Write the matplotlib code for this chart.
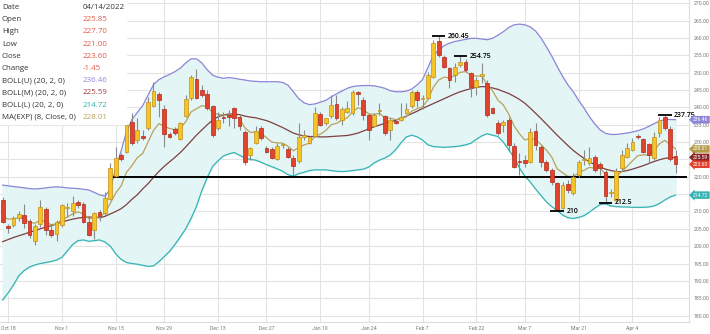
import matplotlib
matplotlib.use("Agg")
import matplotlib.pyplot as plt
import matplotlib.transforms as mtransforms
import pandas as pd
from matplotlib.patches import Rectangle
from pandas.tseries.offsets import CustomBusinessDay

# daily OHLC, 2021-10-15 .. 2022-04-14 (NYSE sessions)
market_holidays = ["2021-11-25", "2021-12-24", "2022-01-17", "2022-02-21"]

opens = [
    213.3, 205.8, 206.1, 208.0, 209.0, 207.4, 201.6, 206.3, 210.6, 204.7,
    203.5, 206.0, 211.0, 210.0, 212.8, 212.3, 207.1, 204.8, 209.8, 209.5,
    213.6, 220.3, 226.3, 227.2, 235.9, 230.6, 231.8, 234.0, 240.4, 244.0,
    239.4, 232.3, 233.7, 230.8, 237.5, 242.6, 248.1, 245.0, 243.9, 240.4,
    234.0, 237.2, 237.8, 239.7, 237.1, 233.0, 226.3, 229.6, 234.0, 228.2,
    227.9, 225.0, 229.1, 227.9, 225.5, 224.6, 231.6, 229.8, 231.8, 238.1,
    235.4, 237.4, 241.1, 236.4, 238.8, 238.3, 244.5, 242.0, 237.8, 234.7,
    238.9, 237.4, 233.5, 236.0, 236.5, 238.3, 240.3, 244.5, 242.3, 242.6,
    248.7, 259.0, 254.6, 251.3, 249.3, 252.2, 253.2, 249.8, 246.0, 249.0,
    247.0, 239.7, 235.4, 234.9, 236.4, 228.9, 224.6, 224.9, 224.4, 233.3,
    228.7, 224.4, 222.0, 218.1, 210.9, 217.9, 215.2, 220.5, 224.8, 224.1,
    225.8, 223.7, 221.5, 215.2, 213.3, 222.4, 225.8, 227.7, 231.8, 230.8,
    229.4, 225.3, 232.6, 237.3, 233.7, 225.85,
]
highs = [
    214.3, 206.3, 208.6, 210.0, 212.2, 207.8, 206.4, 213.3, 211.3, 206.3,
    207.5, 212.3, 212.4, 214.6, 213.4, 212.8, 208.5, 209.8, 210.3, 215.7,
    223.9, 228.7, 226.8, 236.4, 238.3, 236.8, 233.5, 243.1, 247.4, 244.3,
    240.7, 233.0, 234.3, 235.9, 243.6, 249.3, 251.0, 246.4, 245.0, 240.7,
    238.8, 238.8, 239.2, 240.2, 237.8, 233.5, 228.7, 234.5, 234.5, 228.9,
    228.5, 229.6, 229.6, 228.5, 226.3, 235.6, 233.5, 231.8, 240.2, 238.8,
    237.0, 243.5, 243.6, 240.0, 241.7, 245.0, 244.8, 243.1, 238.3, 238.3,
    241.2, 237.8, 236.9, 236.4, 241.2, 241.2, 245.0, 245.0, 243.5, 250.3,
    259.5, 260.45, 255.1, 251.7, 252.7, 254.75, 254.0, 250.3, 248.9, 252.7,
    247.9, 240.0, 236.4, 236.4, 237.3, 229.6, 226.8, 226.3, 234.0, 235.4,
    229.2, 224.9, 222.4, 218.6, 218.6, 219.1, 221.0, 224.9, 227.7, 228.7,
    226.3, 224.4, 222.0, 216.5, 222.4, 227.7, 229.6, 231.1, 232.3, 231.3,
    229.8, 233.0, 237.3, 237.75, 234.5, 227.70,
]
lows = [
    206.6, 203.7, 205.5, 207.4, 205.3, 202.3, 200.3, 205.6, 203.3, 202.7,
    201.5, 205.6, 208.5, 208.6, 210.9, 206.6, 202.8, 202.2, 207.2, 209.0,
    213.3, 220.0, 224.6, 226.8, 229.2, 229.6, 230.6, 233.5, 240.2, 237.3,
    228.7, 231.1, 232.0, 230.6, 237.1, 242.1, 242.3, 243.1, 239.2, 231.6,
    233.5, 235.5, 234.5, 234.0, 233.5, 223.4, 224.8, 229.4, 230.6, 226.8,
    225.2, 224.8, 228.2, 225.3, 220.5, 224.1, 230.6, 229.4, 231.6, 234.6,
    235.0, 236.8, 236.4, 234.9, 238.3, 237.8, 240.7, 236.4, 230.6, 234.5,
    237.8, 232.0, 230.6, 235.2, 236.2, 238.0, 239.7, 240.0, 239.5, 242.3,
    248.4, 254.5, 251.3, 245.5, 247.4, 251.7, 250.3, 243.1, 243.6, 247.0,
    237.3, 238.2, 232.0, 233.0, 227.3, 222.4, 220.5, 222.9, 223.9, 227.7,
    222.9, 221.5, 217.6, 210.0, 210.6, 215.2, 214.8, 220.0, 223.4, 223.4,
    221.5, 220.5, 212.5, 214.2, 212.8, 222.0, 225.3, 227.3, 231.0, 226.8,
    223.9, 224.9, 231.5, 233.5, 224.5, 221.00,
]
closes = [
    207.1, 205.1, 208.0, 209.3, 206.8, 203.2, 205.8, 211.2, 204.7, 203.2,
    207.1, 211.9, 211.2, 212.5, 211.9, 207.1, 203.2, 209.5, 208.7, 213.8,
    222.4, 225.3, 225.0, 234.9, 229.6, 233.5, 231.2, 241.6, 244.8, 242.1,
    232.2, 231.6, 232.5, 235.6, 242.3, 248.7, 242.6, 243.6, 239.7, 232.0,
    236.4, 237.0, 237.2, 236.8, 234.6, 224.4, 228.2, 233.3, 231.1, 227.0,
    225.5, 228.9, 229.3, 225.8, 223.1, 231.6, 231.8, 231.6, 238.3, 234.9,
    236.8, 240.7, 236.9, 239.4, 239.7, 244.5, 243.9, 237.8, 233.4, 237.9,
    239.3, 232.5, 236.4, 235.4, 237.1, 239.4, 244.4, 242.1, 242.5, 249.3,
    258.5, 255.1, 251.7, 247.9, 251.7, 253.2, 250.8, 246.0, 247.9, 249.5,
    237.8, 238.5, 232.5, 235.9, 229.2, 222.9, 224.2, 224.1, 233.0, 229.2,
    224.4, 222.0, 218.6, 210.4, 217.6, 216.2, 220.0, 224.4, 225.0, 225.3,
    222.0, 222.4, 214.5, 215.6, 221.8, 226.3, 228.2, 230.1, 231.4, 227.2,
    226.3, 231.6, 236.5, 234.0, 225.05, 223.60,
]

# BOLL(20, 2, 0) upper / middle / lower and MA(EXP) (8, Close, 0)
boll_upper = [
    217.6, 217.4, 217.2, 217.0, 216.8, 216.6, 216.5, 216.6, 216.8, 217.0,
    217.1, 217.0, 216.8, 216.7, 216.6, 216.4, 216.2, 215.5, 214.8, 214.4,
    216.5, 222.5, 227.5, 233.0, 236.5, 238.5, 240.5, 243.5, 246.5, 248.0,
    248.8, 249.5, 250.3, 251.3, 252.8, 254.0, 254.0, 252.8, 250.8, 249.3,
    248.7, 248.4, 248.6, 248.4, 248.1, 247.9, 247.6, 247.5, 247.4, 247.4,
    247.4, 247.4, 247.2, 246.4, 244.5, 242.5, 241.3, 240.8, 241.0, 241.5,
    242.0, 243.0, 243.9, 244.7, 245.5, 246.0, 246.2, 246.3, 246.3, 246.2,
    245.9, 245.5, 244.8, 244.5, 244.5, 244.7, 245.3, 246.5, 248.0, 251.5,
    255.0, 256.5, 257.8, 258.5, 259.0, 259.3, 259.6, 259.9, 259.9, 259.7,
    259.5, 259.9, 260.8, 261.8, 263.0, 263.8, 264.0, 263.8, 263.2, 262.0,
    260.0, 257.5, 254.8, 251.8, 249.0, 246.5, 244.5, 242.0, 239.8, 237.3,
    235.2, 233.5, 232.5, 232.2, 232.2, 232.4, 232.6, 232.9, 233.3, 233.8,
    234.5, 235.3, 236.0, 236.5, 236.5, 236.46,
]
boll_mid = [
    201.3, 201.9, 202.5, 203.0, 203.5, 204.0, 204.5, 205.0, 205.5, 205.9,
    206.4, 207.0, 207.4, 207.8, 208.1, 208.3, 208.4, 208.3, 208.2, 208.6,
    209.3, 210.0, 210.8, 212.0, 213.5, 214.8, 216.5, 218.0, 219.8, 221.5,
    223.0, 224.3, 225.6, 227.0, 228.6, 230.3, 232.0, 233.5, 235.0, 236.3,
    237.3, 237.8, 238.1, 238.1, 237.9, 237.5, 237.2, 237.0, 236.6, 236.2,
    235.6, 234.9, 234.2, 233.4, 232.6, 232.1, 231.8, 231.6, 231.6, 231.5,
    231.5, 231.6, 231.7, 231.8, 231.9, 232.2, 232.6, 233.2, 233.8, 234.4,
    234.9, 235.4, 235.8, 236.3, 236.8, 237.5, 238.2, 238.9, 239.7, 240.4,
    241.1, 241.8, 242.5, 243.2, 243.9, 244.5, 245.0, 245.4, 245.8, 246.0,
    245.9, 245.6, 245.2, 244.6, 244.0, 243.2, 242.3, 241.2, 239.8, 238.3,
    236.8, 235.2, 233.6, 232.0, 230.5, 229.0, 227.6, 226.4, 225.3, 224.3,
    223.5, 222.8, 222.2, 221.8, 221.5, 221.5, 221.8, 222.2, 222.7, 223.2,
    223.8, 224.4, 224.9, 225.3, 225.5, 225.59,
]
boll_lower = [
    184.5, 186.5, 188.8, 191.5, 193.0, 194.0, 194.6, 195.0, 195.3, 195.6,
    196.0, 196.8, 198.6, 200.5, 201.6, 201.8, 201.4, 201.6, 201.8, 201.2,
    200.0, 197.8, 196.2, 195.3, 195.0, 194.8, 194.5, 194.2, 194.3, 195.5,
    197.0, 198.5, 200.5, 202.7, 205.0, 208.0, 211.5, 216.0, 219.8, 223.0,
    224.6, 226.0, 226.6, 227.0, 226.2, 225.4, 225.0, 224.8, 224.2, 223.5,
    222.9, 222.3, 221.6, 220.6, 220.2, 220.9, 221.3, 221.8, 222.0, 222.0,
    222.0, 221.8, 221.6, 221.5, 221.6, 221.8, 222.0, 222.2, 222.8, 224.0,
    224.8, 225.4, 226.3, 227.8, 229.8, 231.5, 232.0, 231.5, 230.6, 229.2,
    228.7, 228.6, 228.5, 228.6, 228.7, 228.9, 229.2, 229.7, 230.8, 231.8,
    232.4, 232.0, 231.6, 230.0, 227.8, 225.6, 222.5, 220.2, 218.5, 216.5,
    214.6, 212.8, 211.4, 210.3, 209.0, 208.2, 208.0, 208.3, 208.8, 209.8,
    211.0, 212.0, 212.2, 211.6, 211.4, 211.3, 211.3, 211.2, 211.2, 211.2,
    211.3, 211.6, 212.3, 213.3, 214.2, 214.72,
]
ema8 = [
    208.6, 207.8, 207.9, 208.2, 207.9, 206.9, 206.6, 207.6, 207.0, 206.2,
    206.4, 207.6, 208.4, 209.3, 209.9, 209.3, 207.9, 208.3, 208.4, 209.6,
    212.4, 215.3, 217.4, 221.3, 223.2, 225.5, 226.7, 230.0, 233.3, 235.3,
    234.6, 233.9, 233.6, 234.0, 235.9, 238.7, 239.6, 240.5, 240.3, 238.5,
    238.0, 237.8, 237.7, 237.5, 236.8, 234.1, 232.8, 232.9, 232.5, 231.3,
    230.0, 229.8, 229.7, 228.8, 227.5, 228.4, 229.2, 229.7, 231.6, 232.3,
    233.3, 235.0, 235.4, 236.3, 237.0, 238.7, 239.9, 239.4, 238.1, 238.0,
    238.3, 237.0, 236.9, 236.5, 236.7, 237.3, 238.9, 239.6, 240.2, 242.2,
    245.8, 247.9, 248.7, 248.5, 249.2, 250.1, 250.3, 249.3, 249.0, 249.1,
    246.6, 244.8, 242.1, 240.7, 238.1, 234.7, 232.4, 230.6, 231.1, 230.7,
    229.3, 227.7, 225.7, 222.3, 221.2, 220.1, 220.1, 221.1, 221.9, 222.7,
    222.5, 222.5, 220.7, 219.6, 220.1, 221.5, 223.0, 224.6, 226.1, 226.3,
    226.3, 227.5, 229.5, 230.5, 229.3, 228.01,
]

# marked highs / lows: (session, price, label)
marked_highs = [(81, 260.45, "260.45"), (85, 254.75, "254.75"), (123, 237.75, "237.75")]
marked_lows = [(103, 210.0, "210"), (112, 212.5, "212.5")]
support_level = 220.0
support_from = "2021-11-12"

tick_dates = ["2021-10-18", "2021-11-01", "2021-11-15", "2021-11-29", "2021-12-13",
              "2021-12-27", "2022-01-10", "2022-01-24", "2022-02-07", "2022-02-22",
              "2022-03-07", "2022-03-21", "2022-04-04"]
price_ticks = list(range(180, 271, 5))
covered_ticks = [215, 225]  # hidden behind the value tags

dates = pd.date_range("2021-10-15", "2022-04-14",
                      freq=CustomBusinessDay(holidays=market_holidays))
assert len(dates) == len(closes)
x = list(range(len(dates)))
last = len(dates) - 1

UP_FILL, UP_EDGE = "#f6c525", "#c2901a"
DN_FILL, DN_EDGE = "#e4432b", "#b02a1a"
C_UPPER, C_MID, C_LOWER, C_EMA = "#8d86d8", "#7d3f3f", "#35b3b3", "#b8a25c"

fig = plt.figure(figsize=(7.1, 3.34), dpi=100)
ax = fig.add_axes([0.0, 12 / 334, 689 / 710, 322 / 334])
ax.set_xlim(-0.5, 127.5)
ax.set_ylim(178.15, 270.95)

# grid
ax.set_yticks(price_ticks)
ax.set_yticklabels(["" if v in covered_ticks else f"{v:.2f}" for v in price_ticks],
                   family="Roboto")
tick_pos = dates.get_indexer(pd.to_datetime(tick_dates))
ax.set_xticks(tick_pos)
ax.set_xticklabels([f"{d:%b} {d.day}" for d in pd.to_datetime(tick_dates)],
                   family="Roboto")
ax.grid(True, color="#e3e3e3", lw=0.8)
ax.set_axisbelow(True)
ax.yaxis.tick_right()
ax.tick_params(axis="both", length=0, labelsize=3.7, labelcolor="#777777")
ax.tick_params(axis="y", pad=3.5)
ax.tick_params(axis="x", pad=3)
for side in ("top", "left"):
    ax.spines[side].set_visible(False)
for side in ("right", "bottom"):
    ax.spines[side].set_color("#dddddd")
    ax.spines[side].set_linewidth(0.8)

# bollinger envelope
ax.fill_between(x, boll_lower, boll_upper, color="#e4f5f6", zorder=1)
ax.plot(x, boll_upper, color=C_UPPER, lw=0.9, zorder=2)
ax.plot(x, boll_lower, color=C_LOWER, lw=0.9, zorder=2)
ax.plot(x, boll_mid, color=C_MID, lw=0.9, zorder=2)
ax.plot(x, ema8, color=C_EMA, lw=0.9, zorder=2)

# support line
start = dates.get_loc(pd.Timestamp(support_from))
ax.hlines(support_level, start + 0.5, 127.2, color="black", lw=1.4, zorder=3)

# candles
up = [c >= o for o, c in zip(opens, closes)]
fills = [UP_FILL if u else DN_FILL for u in up]
edges = [UP_EDGE if u else DN_EDGE for u in up]
ax.vlines(x, lows, highs, colors="#8a8a8a", lw=0.8, zorder=4)
bodies = [max(abs(c - o), 0.3) for o, c in zip(opens, closes)]
bottoms = [min(o, c) for o, c in zip(opens, closes)]
ax.bar(x, bodies, bottom=bottoms, width=0.7, color=fills, edgecolor=edges,
       linewidth=0.5, zorder=5)

# marked extremes
for i, price, label in marked_highs + marked_lows:
    ax.hlines(price, i - 1.25, i + 1.25, color="black", lw=1.3, zorder=6)
    ax.text(i + 1.7, price, label, fontsize=5, color="black", va="center",
            ha="left", family="Open Sans", fontweight="semibold", zorder=6)

# value tags on the price axis
tag_style = dict(fontsize=3.6, color="white", va="center", ha="left",
                 family="Roboto", clip_on=False, zorder=8)
trans = mtransforms.blended_transform_factory(ax.transAxes, ax.transData)
for value, colour in [(boll_upper[last], C_UPPER), (ema8[last], "#b39a45"),
                      (boll_mid[last], "#8a2626"), (closes[last], "#e0412d"),
                      (boll_lower[last], C_LOWER)]:
    ax.text(1.006, value, f"{value:.2f}", transform=trans,
            bbox=dict(boxstyle="larrow,pad=0.25", fc=colour, ec="none"),
            **tag_style)

# data window in the top-left corner
ax.add_patch(Rectangle((0, 1 - 124 / 322), 126 / 689, 124 / 322,
                       transform=ax.transAxes, color="white", zorder=7))
rows = [
    ("Date", f"{dates[last]:%m/%d/%Y}", "#333333"),
    ("Open", f"{opens[last]:.2f}", "#e25a45"),
    ("High", f"{highs[last]:.2f}", "#e25a45"),
    ("Low", f"{lows[last]:.2f}", "#e25a45"),
    ("Close", f"{closes[last]:.2f}", "#e25a45"),
    ("Change", f"{closes[last] - closes[last - 1]:.2f}", "#e25a45"),
    ("BOLL(U) (20, 2, 0)", f"{boll_upper[last]:.2f}", "#8f88d8"),
    ("BOLL(M) (20, 2, 0)", f"{boll_mid[last]:.2f}", "#a03c3c"),
    ("BOLL(L) (20, 2, 0)", f"{boll_lower[last]:.2f}", "#33abab"),
    ("MA(EXP) (8, Close, 0)", f"{ema8[last]:.2f}", "#b9a45e"),
]
for k, (name, value, colour) in enumerate(rows):
    ypx = 7.5 + 12.2 * k
    fig.text(2 / 710, 1 - ypx / 334, name, fontsize=5.7, color="#333333",
             va="center", ha="left", family="Open Sans", zorder=9)
    fig.text(83 / 710, 1 - ypx / 334, value, fontsize=5.7, color=colour,
             va="center", ha="left", family="Open Sans", zorder=9)

fig.savefig("out.png", dpi=100)
